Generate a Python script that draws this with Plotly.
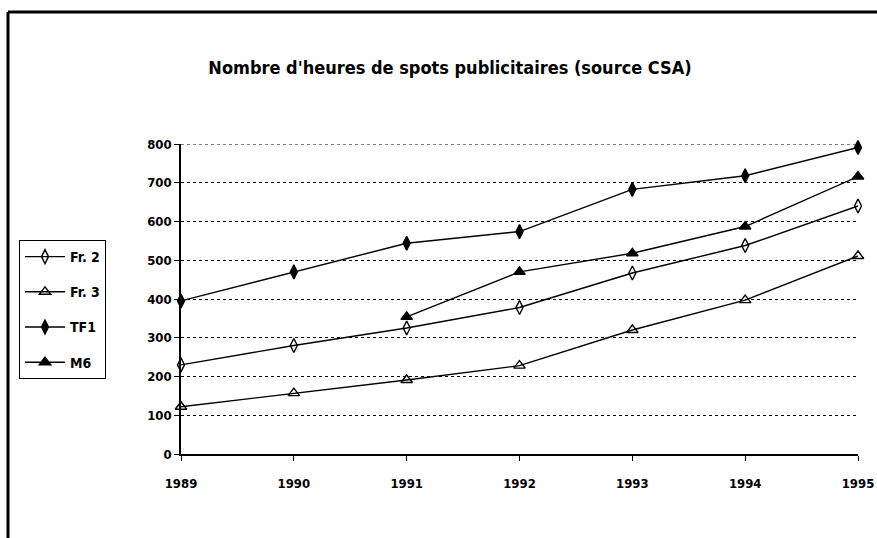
import plotly.graph_objects as go

years = [1989, 1990, 1991, 1992, 1993, 1994, 1995]
fr2 = [230, 280, 325, 378, 467, 538, 640]
fr3 = [122, 157, 191, 228, 320, 397, 511]
tf1 = [395, 470, 544, 574, 683, 718, 791]
m6_years = [1991, 1992, 1993, 1994, 1995]
m6 = [354, 470, 518, 587, 716]
y_ticks = [0, 100, 200, 300, 400, 500, 600, 700, 800]

W, H = 877, 538
L, R, T, B = 181, 19, 144, 84
pw, ph = W - L - R, H - T - B

def px(x):
    return (x - L) / pw

def py(y):
    return (H - B - y) / ph

FONT = "DejaVu Sans Condensed, Liberation Sans Narrow, Arial Narrow, sans-serif"

fig = go.Figure()
series = [
    ("Fr. 2", years, fr2, "diamond-tall-open"),
    ("Fr. 3", years, fr3, "triangle-up-open"),
    ("TF1", years, tf1, "diamond-tall"),
    ("M6", m6_years, m6, "triangle-up"),
]
for name, xs, ys, sym in series:
    fig.add_trace(go.Scatter(
        x=xs, y=ys, name=name, mode="lines+markers", legendgroup=name,
        line=dict(color="black", width=1.4),
        marker=dict(symbol=sym, size=10, color="black",
                    line=dict(color="black", width=1.4)),
        cliponaxis=False,
    ))

fig.update_layout(
    width=W, height=H,
    margin=dict(l=L, r=R, t=T, b=B, autoexpand=False),
    paper_bgcolor="white", plot_bgcolor="white",
    title=dict(text="<b>Nombre d'heures de spots publicitaires (source CSA)</b>",
               x=450 / W, xanchor="center", y=1 - 68 / H, yanchor="middle",
               font=dict(family=FONT, size=18, color="black")),
    showlegend=True,
    legend=dict(x=px(19), y=py(240), xanchor="left", yanchor="top",
                bordercolor="black", borderwidth=1, bgcolor="white",
                font=dict(family=FONT, size=14, color="black", weight="bold"),
                tracegroupgap=14, itemwidth=40),
    xaxis=dict(range=[1989, 1995], tickvals=years, ticktext=[str(y) for y in years],
               showline=True, linecolor="black", linewidth=1.5,
               ticks="outside", ticklen=5, tickcolor="black",
               ticklabelstandoff=12, automargin=False,
               showgrid=False, zeroline=False,
               tickfont=dict(family=FONT, size=13, color="black", weight="bold")),
    yaxis=dict(range=[0, 800], tickvals=y_ticks, automargin=False,
               showline=True, linecolor="black", linewidth=1.5,
               ticks="outside", ticklen=5, tickcolor="black",
               showgrid=True, gridcolor="black", griddash="dot", gridwidth=1,
               zeroline=False,
               tickfont=dict(family=FONT, size=13, color="black", weight="bold")),
    shapes=[
        dict(type="line", xref="paper", yref="y",
             x0=0, x1=1, y0=y_ticks[-1], y1=y_ticks[-1],
             line=dict(color="black", width=1, dash="dot"), layer="below"),
        dict(type="line", xref="paper", yref="paper",
             x0=px(8), x1=px(8), y0=py(12), y1=py(H + 5), line=dict(color="black", width=3)),
        dict(type="line", xref="paper", yref="paper",
             x0=px(8), x1=px(W + 5), y0=py(12), y1=py(12), line=dict(color="black", width=3)),
    ],
)

fig.write_html("out.html", config={"displayModeBar": False},
               post_script="document.body.style.margin='0px';document.body.style.overflow='hidden';")
